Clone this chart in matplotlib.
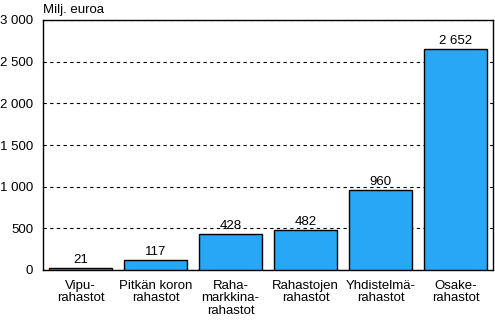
import matplotlib
matplotlib.use("Agg")
import matplotlib.pyplot as plt
from matplotlib.ticker import FuncFormatter

# Data
categories = ["Vipu-\nrahastot", "Pitkän koron\nrahastot", "Raha-\nmarkkina-\nrahastot",
              "Rahastojen\nrahastot", "Yhdistelmä-\nrahastot", "Osake-\nrahastot"]
values = [21, 117, 428, 482, 960, 2652]
yticks = [0, 500, 1000, 1500, 2000, 2500, 3000]

plt.rcParams["font.family"] = ["Liberation Sans", "DejaVu Sans"]
plt.rcParams["font.size"] = 9.5

fig = plt.figure(figsize=(4.95, 3.22), dpi=100)
ax = fig.add_axes([43 / 495, 1 - 270 / 322, 450 / 495, 250 / 322])

x = list(range(len(values)))
ax.bar(x, values, width=0.85, color="#27a7f5", edgecolor="black", linewidth=1.0, zorder=3)

for xi, v in zip(x, values):
    ax.annotate(f"{v:,}".replace(",", " "), (xi, v), xytext=(0, 1.5), textcoords="offset points",
                ha="center", va="bottom", zorder=4)

ax.set_xlim(-0.5, len(values) - 0.5)
ax.set_ylim(0, 3000)
ax.set_yticks(yticks)
ax.yaxis.set_major_formatter(FuncFormatter(lambda v, p: f"{int(v):,}".replace(",", " ")))
ax.grid(axis="y", color="black", linestyle=(0, (3, 3)), linewidth=0.8, zorder=1)
ax.tick_params(axis="y", length=0, pad=7)
ax.tick_params(axis="x", length=0, pad=7)
ax.set_xticks(x)
ax.set_xticklabels(categories, linespacing=1.08)
for s in ax.spines.values():
    s.set_linewidth(1.0)

fig.text(43 / 495, 1 - 10 / 322, "Milj. euroa", ha="left", va="center")

fig.savefig("out.png", dpi=100)
